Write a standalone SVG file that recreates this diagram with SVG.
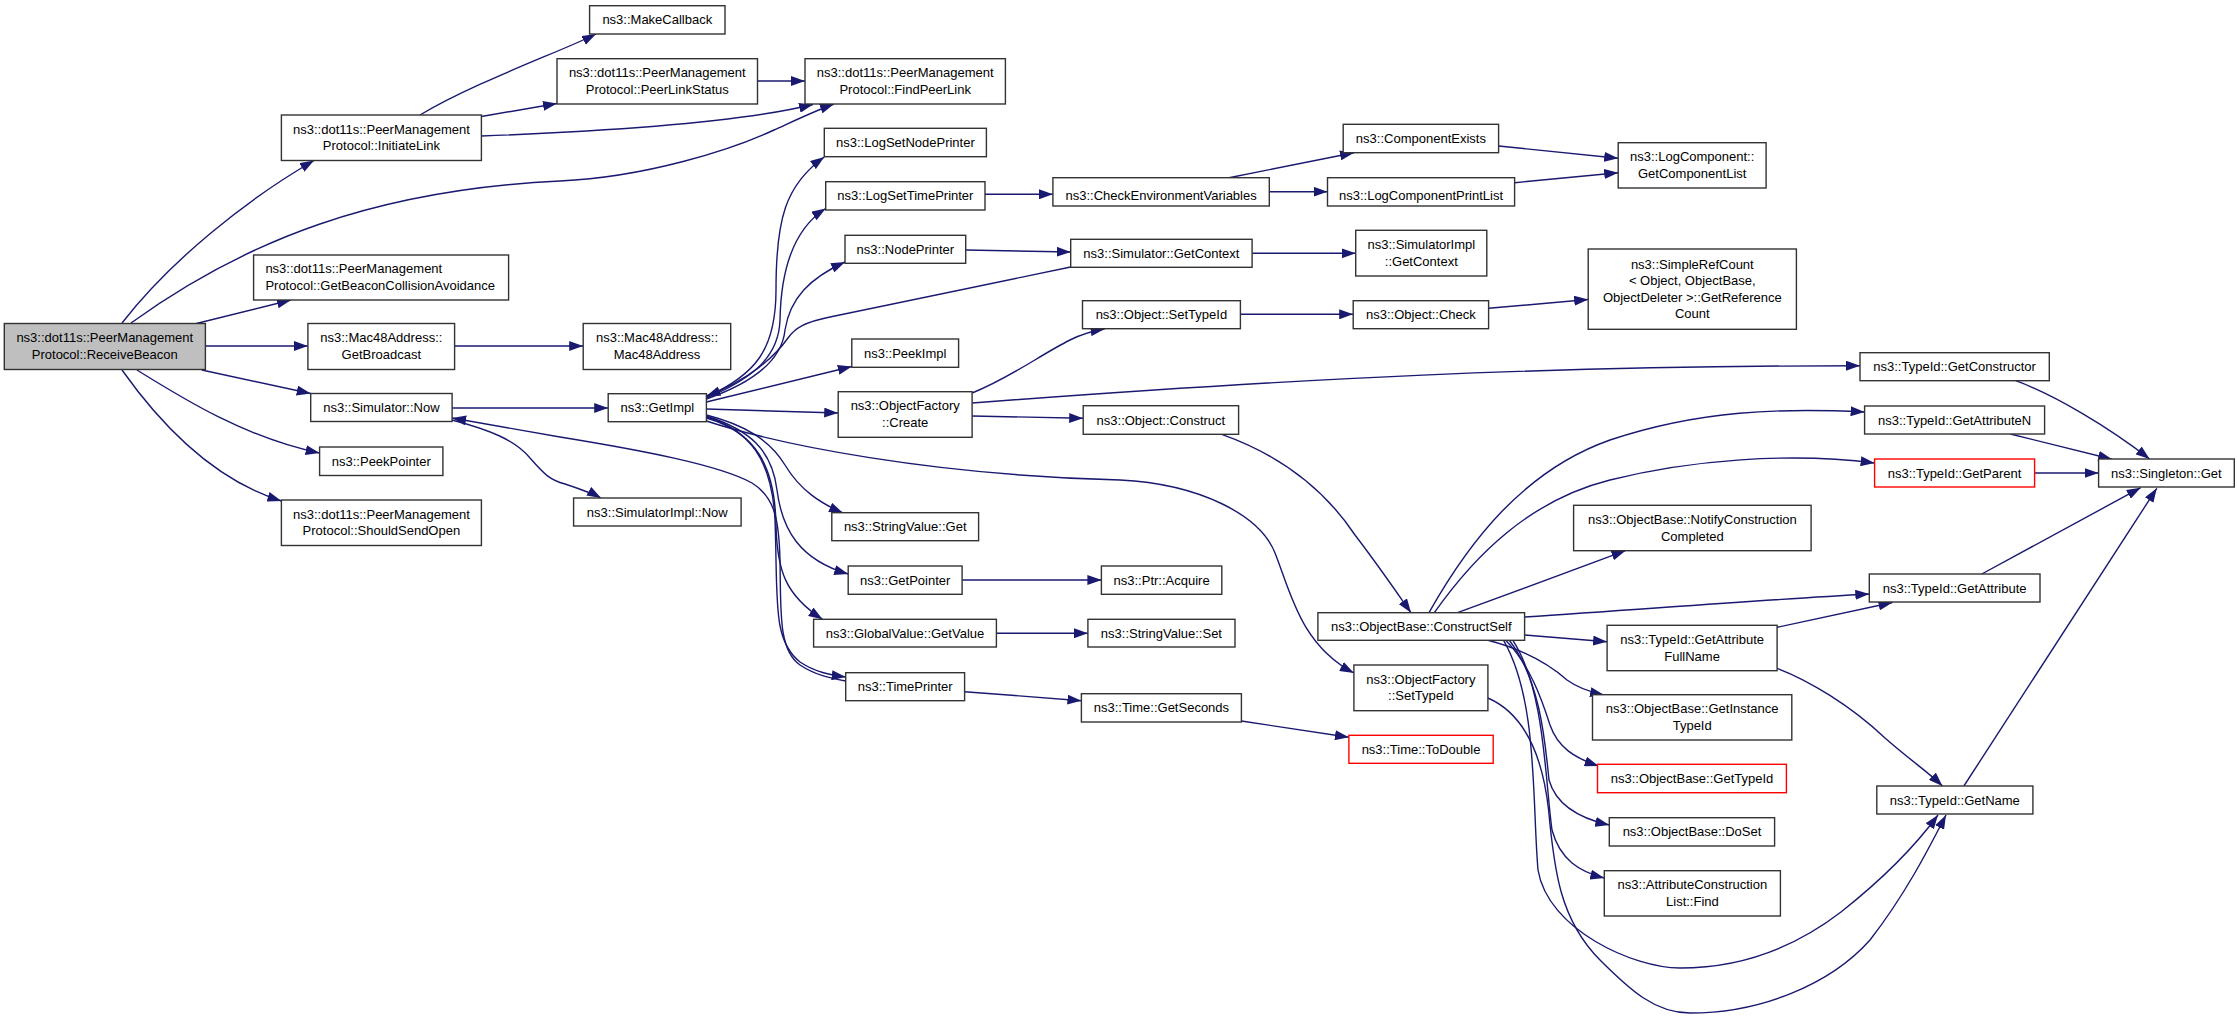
<svg xmlns="http://www.w3.org/2000/svg" width="2237" height="1020" viewBox="0 0 2237 1020">
<style>
.n rect{fill:#ffffff;stroke:#333333;stroke-width:1.4}
.cur rect{fill:#bfbfbf}
.red rect{stroke:#ff0000}
text{font-family:"Liberation Sans",Arial,Helvetica,sans-serif;font-size:13px;fill:#000000;text-anchor:middle}
text.l{text-anchor:start}
.e path{fill:none;stroke:#191970;stroke-width:1.4;marker-end:url(#ah)}
.e path.b{marker-end:none;marker-start:url(#as)}
</style>
<defs>
<marker id="ah" markerUnits="userSpaceOnUse" markerWidth="14" markerHeight="10" refX="14" refY="5" orient="auto"><path d="M0,0 L14,5 L0,10 z" fill="#191970"/></marker>
<marker id="as" markerUnits="userSpaceOnUse" markerWidth="14" markerHeight="10" refX="14" refY="5" orient="auto-start-reverse"><path d="M0,0 L14,5 L0,10 z" fill="#191970"/></marker>
</defs>
<rect width="2237" height="1020" fill="#ffffff"/>
<g id="edges" class="e">
<path d="M122,323 C171,260 246,200 314,160.5"/>
<path d="M131,323 C246,240 375,190 560,181 C646,177 731,150 774,130 C796,120 817,110 834,104"/>
<path d="M481.4,136 C560,133 730,125 813,104.5"/>
<path d="M420,115 C475,82 565,50 596,34"/>
<path d="M481.4,116.5 L557,103.5"/>
<path d="M757.5,81 L805,81"/>
<path d="M196.4,323.5 L291,300"/>
<path d="M205.4,346 L307.9,346"/>
<path d="M201.8,370 L310.7,393.5"/>
<path d="M137,370 C182,398 246,438 319.6,453"/>
<path d="M122,370 C161,425 214,480 281.4,501"/>
<path d="M454.6,346 L583.2,346"/>
<path d="M452.1,408 L608.2,408"/>
<path d="M452,420 C490,430 515,440 530,458 C545,475 550,480 565,484 C580,489 592,493 601,498"/>
<path class="b" d="M452.1,418 L560,437 C640,450 720,465 752,483 C775,497 779,520 780,560 C781,610 778,650 800,665 C815,675 830,678 845.7,681"/>
<path d="M706.4,417 C750,430 772,460 775,520 C778,600 772,640 800,662 C815,672 830,675 845.7,677"/>
<path d="M706.4,415 C745,425 770,440 785,465 C800,490 820,503 843,513"/>
<path d="M706.4,416 C750,430 772,450 777,490 C782,530 800,560 848.2,574"/>
<path d="M706.4,418 C755,432 775,465 776,525 C777,570 785,595 822.5,619.3"/>
<path d="M706.4,402 L851.8,366.5"/>
<path d="M706.4,409 L838.2,413"/>
<path d="M706.4,397 C755,375 776,350 776,290 C776,220 785,185 824.3,157"/>
<path d="M706.4,398 C755,378 779,355 780,320 C781,265 795,228 825.7,208.5"/>
<path d="M706.4,399 C755,382 782,360 785,330 C790,298 810,278 845,262"/>
<path class="b" d="M706.4,396 C750,380 776,355 788,338 C795,328 805,322 830,317 L1070.7,267"/>
<path d="M972.1,393 C1010,378 1040,355 1070,340 C1082,334 1092,331 1104.6,329"/>
<path d="M972.1,403 C1300,378 1550,366 1860,365.7"/>
<path d="M972.1,416 L1083.2,418.3"/>
<path d="M706.4,421 C780,445 930,475 1120,480 C1200,484 1260,515 1275,553 C1290,590 1300,645 1353.9,673"/>
<path d="M985,194.3 L1052.9,194.3"/>
<path d="M965.7,250 L1070.7,252"/>
<path d="M1229,177.7 L1354,152.7"/>
<path d="M1269.3,191.7 L1327.5,191.7"/>
<path d="M1498.6,146 L1618.2,158.3"/>
<path d="M1514.6,182.7 L1618.2,172.7"/>
<path d="M1252.1,253.3 L1355.7,253.3"/>
<path d="M1240.4,314.3 L1353.2,314.3"/>
<path d="M1488.6,308.3 L1588.2,299.5"/>
<path d="M962.1,580 L1101.4,580"/>
<path d="M996.4,633.3 L1087.9,633.3"/>
<path d="M964.6,691.7 L1081.4,700.7"/>
<path d="M1241.4,721 L1348.9,737.3"/>
<path d="M1221.8,434.3 C1280,455 1325,490 1355,535 C1378,565 1395,590 1411,612.7"/>
<path d="M1429,612.7 C1470,540 1525,470 1610,440 C1700,410 1780,408 1864.6,412"/>
<path d="M1434.3,612.7 C1475,555 1530,500 1610,480 C1690,460 1790,452 1874.6,463"/>
<path d="M1457.5,612.7 L1625.4,550.7"/>
<path d="M1524.6,617 C1660,608 1760,600 1869.3,594"/>
<path d="M1524.6,635 L1607.1,641.7"/>
<path d="M1488,640.3 C1525,650 1550,665 1567,680 C1578,688 1590,692 1604,695"/>
<path d="M1505.7,640.3 C1530,665 1542,700 1550,725 C1558,748 1575,758 1598.6,766"/>
<path d="M1509.3,640.3 C1540,680 1545,740 1549,780 C1556,805 1578,818 1609.3,825"/>
<path d="M1512.9,640.3 C1545,690 1545,780 1552,830 C1560,860 1580,872 1604.3,878"/>
<path d="M1503.6,640.3 C1538,700 1532,800 1538,870 C1548,930 1634,968 1680,968 C1744,968 1798,945 1841,912 C1884,878 1916,845 1938,815"/>
<path d="M1487.9,698 C1527,715 1543,760 1548.6,810 C1554,870 1560,920 1600,960 C1630,990 1655,1013 1690,1013 C1760,1013 1830,985 1870,940 C1905,895 1928,850 1946,815"/>
<path d="M1777.1,627.3 L1892.5,602.5"/>
<path d="M1777.1,668.3 C1808,680 1850,705 1885,738 C1910,760 1928,772 1942.5,786"/>
<path d="M2015.7,380.7 C2055,395 2110,428 2149.6,459"/>
<path d="M2010.4,434 L2112.1,459.3"/>
<path d="M2034.6,473 L2098.6,473"/>
<path d="M1981.8,574 L2140.7,487.7"/>
<path d="M1963.9,786 L2156.8,488.3"/>
</g>
<g id="n_receivebeacon" class="n cur"><rect x="4.3" y="323.5" width="201.1" height="46"/><text x="104.8" y="342.4">ns3::dot11s::PeerManagement</text><text x="104.8" y="359">Protocol::ReceiveBeacon</text></g>
<g id="n_initiatelink" class="n"><rect x="281.4" y="115" width="200" height="45.5"/><text x="381.4" y="133.7">ns3::dot11s::PeerManagement</text><text x="381.4" y="150.3">Protocol::InitiateLink</text></g>
<g id="n_getbeacon" class="n"><rect x="253.6" y="255" width="255" height="45"/><text class="l" x="265.4" y="273.4">ns3::dot11s::PeerManagement</text><text class="l" x="265.4" y="290">Protocol::GetBeaconCollisionAvoidance</text></g>
<g id="n_getbroadcast" class="n"><rect x="307.9" y="323.5" width="146.7" height="46"/><text x="381.3" y="342.4">ns3::Mac48Address::</text><text x="381.3" y="359">GetBroadcast</text></g>
<g id="n_simnow" class="n"><rect x="310.7" y="393.5" width="141.4" height="28"/><text x="381.4" y="412">ns3::Simulator::Now</text></g>
<g id="n_peekpointer" class="n"><rect x="319.6" y="447" width="123.3" height="28.5"/><text x="381.3" y="465.8">ns3::PeekPointer</text></g>
<g id="n_shouldsendopen" class="n"><rect x="281.4" y="500" width="200" height="45.5"/><text x="381.4" y="518.7">ns3::dot11s::PeerManagement</text><text x="381.4" y="535.3">Protocol::ShouldSendOpen</text></g>
<g id="n_makecallback" class="n"><rect x="589.6" y="5.7" width="135.4" height="28.3"/><text x="657.3" y="24.4">ns3::MakeCallback</text></g>
<g id="n_peerlinkstatus" class="n"><rect x="557" y="58.7" width="200.5" height="45.3"/><text x="657.3" y="77.3">ns3::dot11s::PeerManagement</text><text x="657.3" y="93.9">Protocol::PeerLinkStatus</text></g>
<g id="n_findpeerlink" class="n"><rect x="805" y="58.7" width="200.4" height="45.3"/><text x="905.2" y="77.3">ns3::dot11s::PeerManagement</text><text x="905.2" y="93.9">Protocol::FindPeerLink</text></g>
<g id="n_logsetnodeprinter" class="n"><rect x="824.3" y="128.3" width="162.1" height="28.4"/><text x="905.4" y="147">ns3::LogSetNodePrinter</text></g>
<g id="n_logsettimeprinter" class="n"><rect x="825.7" y="181.7" width="159.3" height="28.3"/><text x="905.4" y="200.4">ns3::LogSetTimePrinter</text></g>
<g id="n_nodeprinter" class="n"><rect x="845" y="235.3" width="120.7" height="28"/><text x="905.4" y="253.8">ns3::NodePrinter</text></g>
<g id="n_mac48address" class="n"><rect x="583.2" y="323.5" width="147.5" height="46"/><text x="657" y="342.4">ns3::Mac48Address::</text><text x="657" y="359">Mac48Address</text></g>
<g id="n_getimpl" class="n"><rect x="608.2" y="393.7" width="98.2" height="28"/><text x="657.3" y="412.2">ns3::GetImpl</text></g>
<g id="n_simimplnow" class="n"><rect x="573.6" y="498" width="167.5" height="28"/><text x="657.3" y="516.5">ns3::SimulatorImpl::Now</text></g>
<g id="n_peekimpl" class="n"><rect x="851.8" y="339" width="106.8" height="28.3"/><text x="905.2" y="357.7">ns3::PeekImpl</text></g>
<g id="n_ofcreate" class="n"><rect x="838.2" y="391.7" width="133.9" height="45.6"/><text x="905.2" y="410.4">ns3::ObjectFactory</text><text x="905.2" y="427">::Create</text></g>
<g id="n_svget" class="n"><rect x="831.8" y="512.7" width="146.8" height="28"/><text x="905.2" y="531.2">ns3::StringValue::Get</text></g>
<g id="n_getpointer" class="n"><rect x="848.2" y="566" width="113.9" height="28.3"/><text x="905.2" y="584.7">ns3::GetPointer</text></g>
<g id="n_gvgetvalue" class="n"><rect x="813.6" y="619.3" width="182.8" height="27.7"/><text x="905" y="637.7">ns3::GlobalValue::GetValue</text></g>
<g id="n_timeprinter" class="n"><rect x="845.7" y="672.7" width="118.9" height="28"/><text x="905.2" y="691.2">ns3::TimePrinter</text></g>
<g id="n_checkenv" class="n"><rect x="1052.9" y="177.7" width="216.4" height="28.3"/><text x="1161.1" y="200.4">ns3::CheckEnvironmentVariables</text></g>
<g id="n_simgetcontext" class="n"><rect x="1070.7" y="239.3" width="181.4" height="28"/><text x="1161.4" y="257.8">ns3::Simulator::GetContext</text></g>
<g id="n_objsettypeid" class="n"><rect x="1082.5" y="300.7" width="157.9" height="28"/><text x="1161.4" y="319.2">ns3::Object::SetTypeId</text></g>
<g id="n_objconstruct" class="n"><rect x="1083.2" y="405.7" width="155.4" height="28.6"/><text x="1160.9" y="424.5">ns3::Object::Construct</text></g>
<g id="n_ptracquire" class="n"><rect x="1101.4" y="566" width="120.4" height="28.3"/><text x="1161.6" y="584.7">ns3::Ptr::Acquire</text></g>
<g id="n_svset" class="n"><rect x="1087.9" y="619.3" width="147.1" height="27.7"/><text x="1161.4" y="637.7">ns3::StringValue::Set</text></g>
<g id="n_getseconds" class="n"><rect x="1081.4" y="693.7" width="160" height="28.3"/><text x="1161.4" y="712.4">ns3::Time::GetSeconds</text></g>
<g id="n_componentexists" class="n"><rect x="1343.2" y="124.3" width="155.4" height="28.4"/><text x="1420.9" y="143">ns3::ComponentExists</text></g>
<g id="n_logcompprintlist" class="n"><rect x="1327.5" y="177.7" width="187.1" height="28.3"/><text x="1421" y="200.4">ns3::LogComponentPrintList</text></g>
<g id="n_simimplgetcontext" class="n"><rect x="1355.7" y="230.3" width="131.1" height="45.7"/><text x="1421.3" y="249.1">ns3::SimulatorImpl</text><text x="1421.3" y="265.7">::GetContext</text></g>
<g id="n_objcheck" class="n"><rect x="1353.2" y="300.7" width="135.4" height="28"/><text x="1420.9" y="319.2">ns3::Object::Check</text></g>
<g id="n_constructself" class="n"><rect x="1317.9" y="612.7" width="206.7" height="27.6"/><text x="1421.3" y="631">ns3::ObjectBase::ConstructSelf</text></g>
<g id="n_ofsettypeid" class="n"><rect x="1353.9" y="665" width="134" height="45.7"/><text x="1420.9" y="683.8">ns3::ObjectFactory</text><text x="1420.9" y="700.4">::SetTypeId</text></g>
<g id="n_todouble" class="n red"><rect x="1348.9" y="735.3" width="144.3" height="28"/><text x="1421" y="753.8">ns3::Time::ToDouble</text></g>
<g id="n_getcomponentlist" class="n"><rect x="1618.2" y="142.7" width="147.9" height="45.3"/><text x="1692.2" y="161.3">ns3::LogComponent::</text><text x="1692.2" y="177.9">GetComponentList</text></g>
<g id="n_simplerefcount" class="n"><rect x="1588.2" y="249" width="208.2" height="80.3"/><text x="1692.3" y="268.5">ns3::SimpleRefCount</text><text x="1692.3" y="285.1">&lt; Object, ObjectBase,</text><text x="1692.3" y="301.7">ObjectDeleter &gt;::GetReference</text><text x="1692.3" y="318.3">Count</text></g>
<g id="n_notifyconstruction" class="n"><rect x="1573.6" y="505.3" width="237.5" height="45.4"/><text x="1692.4" y="523.9">ns3::ObjectBase::NotifyConstruction</text><text x="1692.4" y="540.5">Completed</text></g>
<g id="n_getattrfullname" class="n"><rect x="1607.1" y="625.3" width="170" height="45.4"/><text x="1692.1" y="643.9">ns3::TypeId::GetAttribute</text><text x="1692.1" y="660.5">FullName</text></g>
<g id="n_getinstancetypeid" class="n"><rect x="1592.5" y="694.7" width="199.3" height="45.3"/><text x="1692.2" y="713.3">ns3::ObjectBase::GetInstance</text><text x="1692.2" y="729.9">TypeId</text></g>
<g id="n_obgettypeid" class="n red"><rect x="1597.5" y="764.3" width="188.9" height="28.4"/><text x="1692" y="783">ns3::ObjectBase::GetTypeId</text></g>
<g id="n_doset" class="n"><rect x="1609.3" y="817.7" width="165.3" height="28.3"/><text x="1692" y="836.4">ns3::ObjectBase::DoSet</text></g>
<g id="n_acfind" class="n"><rect x="1604.3" y="870.7" width="176.1" height="45.3"/><text x="1692.4" y="889.3">ns3::AttributeConstruction</text><text x="1692.4" y="905.9">List::Find</text></g>
<g id="n_getconstructor" class="n"><rect x="1860" y="352.7" width="189.3" height="28"/><text x="1954.6" y="371.2">ns3::TypeId::GetConstructor</text></g>
<g id="n_getattributen" class="n"><rect x="1864.6" y="406" width="180" height="28"/><text x="1954.6" y="424.5">ns3::TypeId::GetAttributeN</text></g>
<g id="n_getparent" class="n red"><rect x="1874.6" y="459" width="160" height="28"/><text x="1954.6" y="477.5">ns3::TypeId::GetParent</text></g>
<g id="n_getattribute" class="n"><rect x="1869.3" y="574" width="170.7" height="28"/><text x="1954.6" y="592.5">ns3::TypeId::GetAttribute</text></g>
<g id="n_getname" class="n"><rect x="1876.8" y="786" width="156.1" height="28"/><text x="1954.8" y="804.5">ns3::TypeId::GetName</text></g>
<g id="n_singletonget" class="n"><rect x="2098.6" y="459" width="135.7" height="28"/><text x="2166.4" y="477.5">ns3::Singleton::Get</text></g>
</svg>
